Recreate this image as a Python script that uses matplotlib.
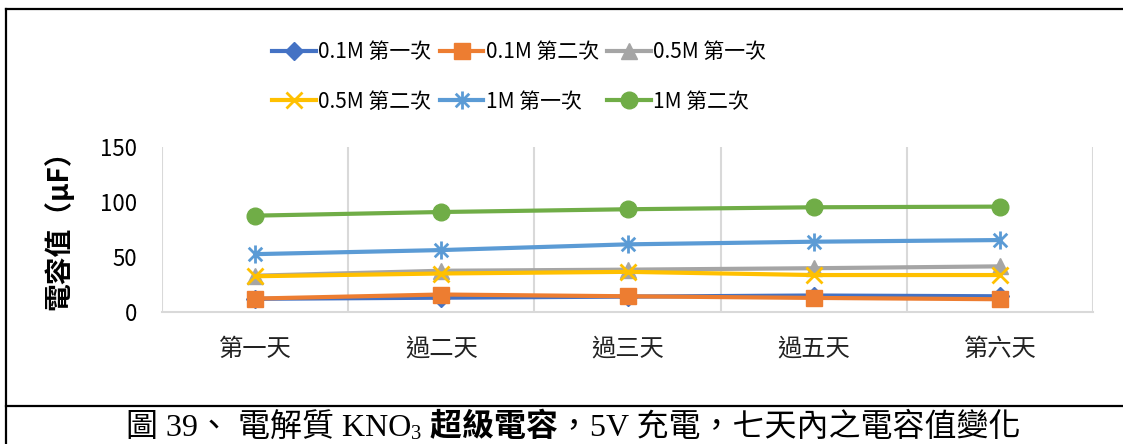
import matplotlib
matplotlib.use("Agg")
import matplotlib.pyplot as plt
from matplotlib.path import Path
from matplotlib.lines import Line2D
import numpy as np

plt.rcParams['font.family'] = ['Noto Sans CJK TC', 'DejaVu Sans']

categories = ["第一天", "過二天", "過三天", "過五天", "第六天"]
series_names = ["0.1M 第一次", "0.1M 第二次", "0.5M 第一次", "0.5M 第二次", "1M 第一次", "1M 第二次"]
s_01_1 = [12.0, 13.0, 14.0, 15.0, 14.3]
s_01_2 = [12.2, 15.9, 14.3, 12.8, 11.6]
s_05_1 = [33.0, 37.5, 38.5, 39.8, 41.5]
s_05_2 = [32.5, 35.0, 36.5, 33.6, 33.6]
s_1_1 = [52.6, 56.3, 61.5, 63.9, 65.4]
s_1_2 = [87.6, 90.9, 93.4, 95.2, 95.8]
yticks = [0, 50, 100, 150]
ylabel = "電容值（µF）"

colors = ["#4472C4", "#ED7D31", "#A5A5A5", "#FFC000", "#5B9BD5", "#70AD47"]

star = Path([(0, -1), (0, 1), (-0.75, -0.75), (0.75, 0.75), (-0.75, 0.75), (0.75, -0.75)],
            [Path.MOVETO, Path.LINETO, Path.MOVETO, Path.LINETO, Path.MOVETO, Path.LINETO])

W, H = 1123, 444
fig = plt.figure(figsize=(W / 100, H / 100), dpi=100)
ax = fig.add_axes([162 / W, 1 - 312 / H, 931 / W, 165 / H])

x = np.arange(len(categories))
data = [s_01_1, s_01_2, s_05_1, s_05_2, s_1_1, s_1_2]
styles = [
    dict(marker='D', markersize=9),
    dict(marker='s', markersize=11),
    dict(marker='^', markersize=11),
    dict(marker='x', markersize=12, markeredgewidth=2),
    dict(marker=star, markersize=13, markeredgewidth=2, markerfacecolor='none'),
    dict(marker='o', markersize=12),
]
handles = []
for i, (vals, c, st) in enumerate(zip(data, colors, styles)):
    h, = ax.plot(x, vals, color=c, linewidth=3, markeredgecolor=c, markerfacecolor=st.pop('markerfacecolor', c),
                 label=series_names[i], zorder=3 + i, clip_on=False, **st)
    handles.append(h)

ax.set_xlim(-0.5, len(categories) - 0.5)
ax.set_ylim(0, 150)
ax.set_yticks(yticks)
ax.set_yticklabels([str(v) for v in yticks], fontsize=16)
ax.set_xticks(x)
ax.set_xticklabels(categories, fontsize=17.5, color='#222222')
ax.tick_params(axis='both', length=0)
ax.tick_params(axis='y', pad=18)
ax.tick_params(axis='x', pad=17)
for b in np.arange(-0.5, len(categories), 1.0):
    ax.axvline(b, color='#D9D9D9', linewidth=1.5, zorder=1)
for s in ['top', 'right', 'left']:
    ax.spines[s].set_visible(False)
ax.spines['bottom'].set_color('#D9D9D9')
ax.spines['bottom'].set_linewidth(1.5)
ax.set_ylabel(ylabel, fontsize=20, fontweight='bold')
ax.yaxis.set_label_coords(-(162 - 73) / 931, 0.54)

order = [0, 3, 1, 4, 2, 5]
leg = fig.legend([handles[i] for i in order], [series_names[i] for i in order], ncol=3,
                 loc='upper left', bbox_to_anchor=(262 / W, 1 - 31 / H), frameon=False,
                 fontsize=15, handlelength=2.1, handletextpad=0.1, columnspacing=0.4,
                 labelspacing=1.3, borderpad=0)

# frame lines
lw = 1.6
fig.add_artist(Line2D([6 / W, 1], [1 - 9 / H, 1 - 9 / H], color='black', linewidth=lw))
fig.add_artist(Line2D([6 / W, 6 / W], [0, 1 - 9 / H], color='black', linewidth=lw))
fig.add_artist(Line2D([6 / W, 1], [1 - 406 / H, 1 - 406 / H], color='black', linewidth=lw))

# caption with mixed weight
parts = [("圖 39、 電解質 KNO", 'normal', 0), ("3", 'normal', -1), (" 超級電容", 'bold', 0),
         ("，5V 充電，七天內之電容值變化", 'normal', 0)]
fig.canvas.draw()
renderer = fig.canvas.get_renderer()
fs = 23
texts = []
for s, wgt, sub in parts:
    t = fig.text(0, 0, s, fontsize=fs * (0.65 if sub else 1), fontweight=wgt, ha='left', va='baseline',
                 family=['Liberation Serif', 'Noto Sans CJK TC'], color='black')
    texts.append((t, sub))
widths = [t.get_window_extent(renderer).width for t, _ in texts]
total = sum(widths)
cx = 573
xpos = cx - total / 2
base = 1 - 436 / H
for (t, sub), w in zip(texts, widths):
    t.set_x(xpos / W)
    t.set_y(base - (3 / H if sub else 0))
    xpos += w

fig.savefig("out.png", dpi=100)
